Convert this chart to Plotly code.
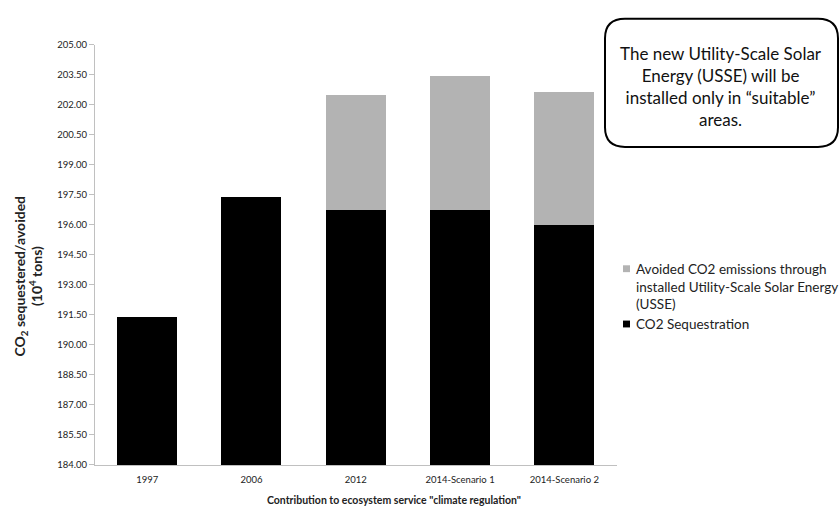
import plotly.graph_objects as go

categories = ["1997", "2006", "2012", "2014-Scenario 1", "2014-Scenario 2"]
co2_sequestration = [191.4, 197.4, 196.76, 196.76, 196.0]
avoided_usse = [0.0, 0.0, 5.73, 6.66, 6.65]
y_min, y_max, y_step = 184.0, 205.0, 1.5
name_seq = "CO2 Sequestration"
name_avoided = "Avoided CO2 emissions through<br>installed Utility-Scale Solar Energy<br>(USSE)"
color_seq = "#000000"
color_avoided = "#b3b3b3"
y_title_lines = ["<b>CO<sub>2</sub> sequestered/avoided</b>", "<b>(10<sup>4</sup> tons)</b>"]
x_title = "<b>Contribution to ecosystem service \"climate regulation\"</b>"
note_text = "The new Utility-Scale Solar<br>Energy (USSE) will be<br>installed only in \u201csuitable\u201d<br>areas."

W, H = 840, 511
FONT = "Lato"

def px_x(p):
    return p / W

def px_y(p):
    return 1 - p / H

fig = go.Figure()
fig.add_trace(go.Bar(
    x=categories, y=co2_sequestration, name=name_seq, showlegend=False,
    marker=dict(color=color_seq, line=dict(width=0)),
))
fig.add_trace(go.Bar(
    x=categories, y=avoided_usse, name=name_avoided, showlegend=False,
    marker=dict(color=color_avoided, line=dict(width=0)),
))

fig.update_layout(
    width=W, height=H,
    margin=dict(l=0, r=0, t=0, b=0),
    barmode="stack",
    bargap=0.425,
    plot_bgcolor="white", paper_bgcolor="white",
    font=dict(family=FONT, size=10, color="#222222"),
    showlegend=False,
    xaxis=dict(
        domain=[px_x(95), px_x(616.5)],
        showline=True, linecolor="#c0c0c0", linewidth=1,
        ticks="", showgrid=False, tickfont=dict(size=9.5, color="#222"),
        ticklabelstandoff=6,
    ),
    yaxis=dict(
        domain=[px_y(469), px_y(39.7)],
        range=[y_min, y_max], dtick=y_step, tick0=y_min,
        tickformat=".2f", showgrid=False, zeroline=False,
        showline=True, linecolor="#c0c0c0", linewidth=1,
        ticks="outside", ticklen=5, tickcolor="#c0c0c0",
        tickfont=dict(size=9.5, color="#222"),
    ),
)

# y-axis title (two rotated lines)
for line_text, xc in zip(y_title_lines, [20.5, 35]):
    fig.add_annotation(
        x=px_x(xc), y=px_y(276), xref="paper", yref="paper",
        text=line_text, textangle=-90, showarrow=False,
        font=dict(size=14, color="#222"),
        xanchor="center", yanchor="middle",
    )
# x-axis title
fig.add_annotation(
    x=px_x(394), y=px_y(505), xref="paper", yref="paper",
    text=x_title, showarrow=False, font=dict(size=10.5, color="#222"),
    xanchor="center", yanchor="middle",
)

# manual legend
legend_items = [(name_avoided, color_avoided, 286.5, 268.5), (name_seq, color_seq, 325, 325)]
for label, col, ytxt, ysq in legend_items:
    fig.add_shape(type="rect", xref="paper", yref="paper",
                  x0=px_x(623), x1=px_x(630), y0=px_y(ysq + 3.5), y1=px_y(ysq - 3.5),
                  fillcolor=col, line=dict(width=0))
    fig.add_annotation(
        x=px_x(634), y=px_y(ytxt), xref="paper", yref="paper",
        text=label, showarrow=False, align="left",
        font=dict(size=13.5, color="#222"), xanchor="left", yanchor="middle",
    )

# rounded callout box
x0, x1, y0, y1, r = 605, 838, 13, 144, 20
def P(x, y):
    return f"{px_x(x):.5f},{px_y(y):.5f}"
path = (f"M {P(x0 + r, y0)} L {P(x1 - r, y0)} Q {P(x1, y0)} {P(x1, y0 + r)} "
        f"L {P(x1, y1 - r)} Q {P(x1, y1)} {P(x1 - r, y1)} "
        f"L {P(x0 + r, y1)} Q {P(x0, y1)} {P(x0, y1 - r)} "
        f"L {P(x0, y0 + r)} Q {P(x0, y0)} {P(x0 + r, y0)} Z")
fig.add_shape(type="path", path=path, xref="paper", yref="paper",
              line=dict(color="#000000", width=2), fillcolor="white")
fig.add_annotation(
    x=px_x(720.5), y=px_y(82), xref="paper", yref="paper",
    text=note_text, showarrow=False, align="center",
    font=dict(size=17, color="#111"),
    xanchor="center", yanchor="middle",
)

fig.write_html("out.html")
